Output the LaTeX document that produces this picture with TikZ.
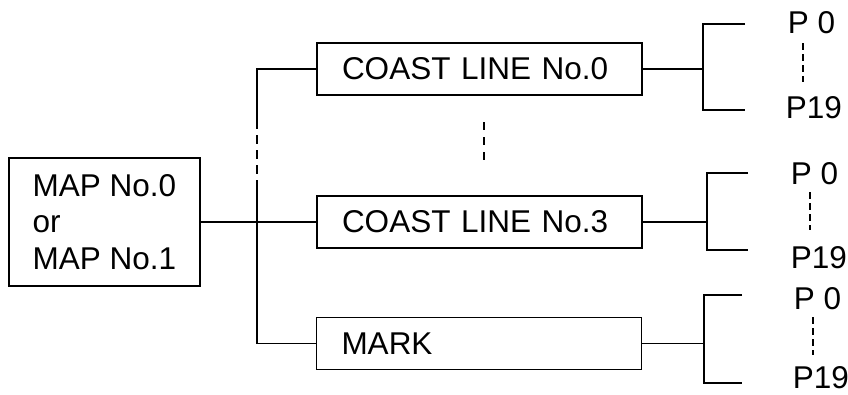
\documentclass[tikz,border=0pt]{standalone}
\usepackage{fontspec}
\setmainfont{Liberation Sans}
\newcommand\diagfont{\fontsize{31.5}{36.5}\selectfont}
\begin{document}
\begin{tikzpicture}[x=1pt,y=-1pt,line width=1.8pt,
  box/.style={draw,rectangle,inner ysep=0pt,inner xsep=25pt,minimum height=52pt,
              text width=275pt,align=left,font=\diagfont},
  lbl/.style={anchor=base west,inner sep=0pt,font=\diagfont},
  dots/.style={dash pattern=on 7pt off 4pt},
  gapline/.style={dash pattern=on 9pt off 6pt}]
\useasboundingbox (0,0) rectangle (848,394);

% root and the three record boxes
\node[draw,rectangle,inner sep=0pt,align=left,minimum width=191pt,
      minimum height=128pt,font=\diagfont] (map) at (104.5,222) {MAP No.0\\or\\MAP No.1};
\node[box] (c0) at (479.5,69) {COAST LINE No.0};
\node[box] (c3) at (479.5,222) {COAST LINE No.3};
\node[box] (mark) at (479,343.5) {MARK};

% trunk joining the records
\coordinate (jt) at (257,69);
\coordinate (jd1) at (257,120);
\coordinate (jd2) at (257,186);
\coordinate (jb) at (257,343.5);
\draw (map.east) -- (c3.west);
\draw (c0.west) -- (jt) -- (jd1);
\draw[gapline] (jd1) -- (jd2);
\draw (jd2) -- (jb) -- (mark.west);

% elided records between No.0 and No.3
\coordinate (m1) at (484,122);
\coordinate (m2) at (484,160);
\draw[dash pattern=on 8pt off 7pt] (m1) -- (m2);

% point lists
\node[lbl] (p0a) at (787,33) {P 0};
\node[lbl] (p19a) at (785,118) {P19};
\node[lbl] (p0b) at (790,184) {P 0};
\node[lbl] (p19b) at (790,268) {P19};
\node[lbl] (p0c) at (793,309) {P 0};
\node[lbl] (p19c) at (792,388) {P19};

% brackets
\coordinate (ka) at (703,69);
\coordinate (ka1) at (703,24);  \coordinate (ea1) at (745,24);
\coordinate (ka2) at (703,110); \coordinate (ea2) at (745,110);
\draw (c0.east) -- (ka);
\draw (ea1) -- (ka1) -- (ka2) -- (ea2);

\coordinate (kb) at (707,222);
\coordinate (kb1) at (707,173); \coordinate (eb1) at (748,173);
\coordinate (kb2) at (707,250); \coordinate (eb2) at (748,250);
\draw (c3.east) -- (kb);
\draw (eb1) -- (kb1) -- (kb2) -- (eb2);

\coordinate (kc) at (704,343.5);
\coordinate (kc1) at (704,295); \coordinate (ec1) at (742,295);
\coordinate (kc2) at (704,383); \coordinate (ec2) at (742,383);
\draw (mark.east) -- (kc);
\draw (ec1) -- (kc1) -- (kc2) -- (ec2);

% elided points
\coordinate (da1) at (803,43);  \coordinate (da2) at (803,82);
\coordinate (db1) at (810,192); \coordinate (db2) at (810,230);
\coordinate (dc1) at (813,317); \coordinate (dc2) at (813,355);
\draw[dots] (da1) -- (da2);
\draw[dots] (db1) -- (db2);
\draw[dots] (dc1) -- (dc2);
\end{tikzpicture}
\end{document}
